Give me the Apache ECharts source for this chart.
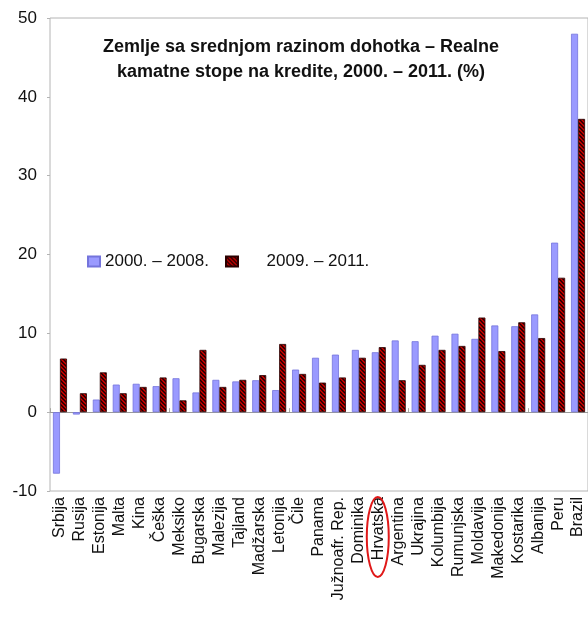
<!DOCTYPE html>
<html>
<head>
<meta charset="utf-8">
<script src="https://cdn.jsdelivr.net/npm/echarts@6/dist/echarts.min.js"></script>
<style>
html,body{margin:0;padding:0;background:#fff;}
#c{width:588px;height:617px;}
</style>
</head>
<body>
<div id="c"></div>
<script>
const categories = ['Srbija','Rusija','Estonija','Malta','Kina','Češka','Meksiko','Bugarska','Malezija','Tajland','Madžarska','Letonija','Čile','Panama','Južnoafr. Rep.','Dominika','Hrvatska','Argentina','Ukrajina','Kolumbija','Rumunjska','Moldavija','Makedonija','Kostarika','Albanija','Peru','Brazil'];
const series2000_2008 = [-7.8,-0.3,1.6,3.5,3.6,3.3,4.3,2.5,4.1,3.9,4.05,2.8,5.4,6.9,7.3,7.9,7.6,9.1,9.0,9.7,9.95,9.3,11.0,10.9,12.4,21.5,48.0];
const series2009_2011 = [6.8,2.4,5.05,2.4,3.2,4.4,1.5,7.9,3.2,4.1,4.7,8.65,4.85,3.75,4.4,6.9,8.25,4.05,6.0,7.9,8.4,12.0,7.75,11.4,9.4,17.05,37.2];
const seriesNames = ['2000. – 2008.', '2009. – 2011.'];
const yMin = -10, yMax = 50, yStep = 10;
const highlighted = 'Hrvatska';
const titleLines = ['Zemlje sa srednjom razinom dohotka – Realne', 'kamatne stope na kredite, 2000. – 2011. (%)'];

// hatch pattern (red with dark diagonal stripes)
const pc = document.createElement('canvas');
pc.width = 4; pc.height = 4;
const g = pc.getContext('2d');
g.fillStyle = '#dc0000'; g.fillRect(0,0,4,4);
g.strokeStyle = '#1a0000'; g.lineWidth = 1.5;
g.beginPath();
g.moveTo(-1,-1); g.lineTo(5,5);
g.moveTo(-1,3); g.lineTo(1,5);
g.moveTo(3,-1); g.lineTo(5,1);
g.stroke();

const FONT = "'Liberation Sans', Arial, sans-serif";
const chart = echarts.init(document.getElementById('c'), null, {renderer:'canvas'});
const option = {
  backgroundColor: '#fff',
  animation: false,
  grid: { left: 50, right: -2, top: 18, bottom: 126, show: true, borderColor: '#b4b4b4', borderWidth: 1, containLabel: false },
  legend: [
    { data: [seriesNames[0]], icon: 'rect', left: 87, top: 253, itemWidth: 12, itemHeight: 10, itemGap: 5, padding: 0,
      textStyle: { fontSize: 17, color: '#111', fontFamily: FONT } },
    { data: [seriesNames[1]], icon: 'rect', left: 225, top: 253, itemWidth: 12, itemHeight: 10, padding: 0,
      formatter: n => '\u00a0\u00a0\u00a0\u00a0\u00a0' + n,
      textStyle: { fontSize: 17, color: '#111', fontFamily: FONT } }
  ],
  xAxis: [
    { type: 'category', data: categories, position: 'bottom',
      axisLine: { show: false, onZero: false }, axisTick: { show: false },
      axisLabel: { interval: 0, rotate: 90, margin: 6, fontSize: 16, color: '#111', fontFamily: FONT } },
    { type: 'category', data: categories, position: 'top',
      axisLine: { show: true, onZero: true, lineStyle: { color: '#9a9a9a', width: 1 } },
      axisTick: { show: true, length: 4, lineStyle: { color: '#a8a8a0' } },
      axisLabel: { show: false } }
  ],
  yAxis: {
    type: 'value', min: yMin, max: yMax, interval: yStep,
    axisLine: { show: false },
    axisTick: { show: true, length: 3, lineStyle: { color: '#b4b4b4' } },
    splitLine: { show: false },
    axisLabel: { fontSize: 17, color: '#111', margin: 13, fontFamily: FONT }
  },
  series: [
    { name: seriesNames[0], type: 'bar', xAxisIndex: 0, data: series2000_2008, barWidth: 7, barGap: '0%',
      itemStyle: { color: '#9a9aff', borderColor: '#7474dc', borderWidth: 0.8 } },
    { name: seriesNames[1], type: 'bar', xAxisIndex: 0, data: series2009_2011, barWidth: 7, barGap: '0%',
      itemStyle: { color: { image: pc, repeat: 'repeat' }, borderColor: '#2a0000', borderWidth: 0.8 } }
  ]
};
chart.setOption(option);
const hx = chart.convertToPixel({ xAxisIndex: 0 }, highlighted);
chart.setOption({
  graphic: [
    { type: 'text', x: 301, y: 35, z: 10,
      style: { text: titleLines.join('\n'), textAlign: 'center', fontSize: 18, fontWeight: 'bold', lineHeight: 25, fontFamily: FONT, fill: '#111' } },
    { type: 'ellipse', z: 10, shape: { cx: hx - 1, cy: 537, rx: 11, ry: 40 },
      style: { fill: 'none', stroke: '#e01818', lineWidth: 2 } }
  ]
});
</script>
</body>
</html>
